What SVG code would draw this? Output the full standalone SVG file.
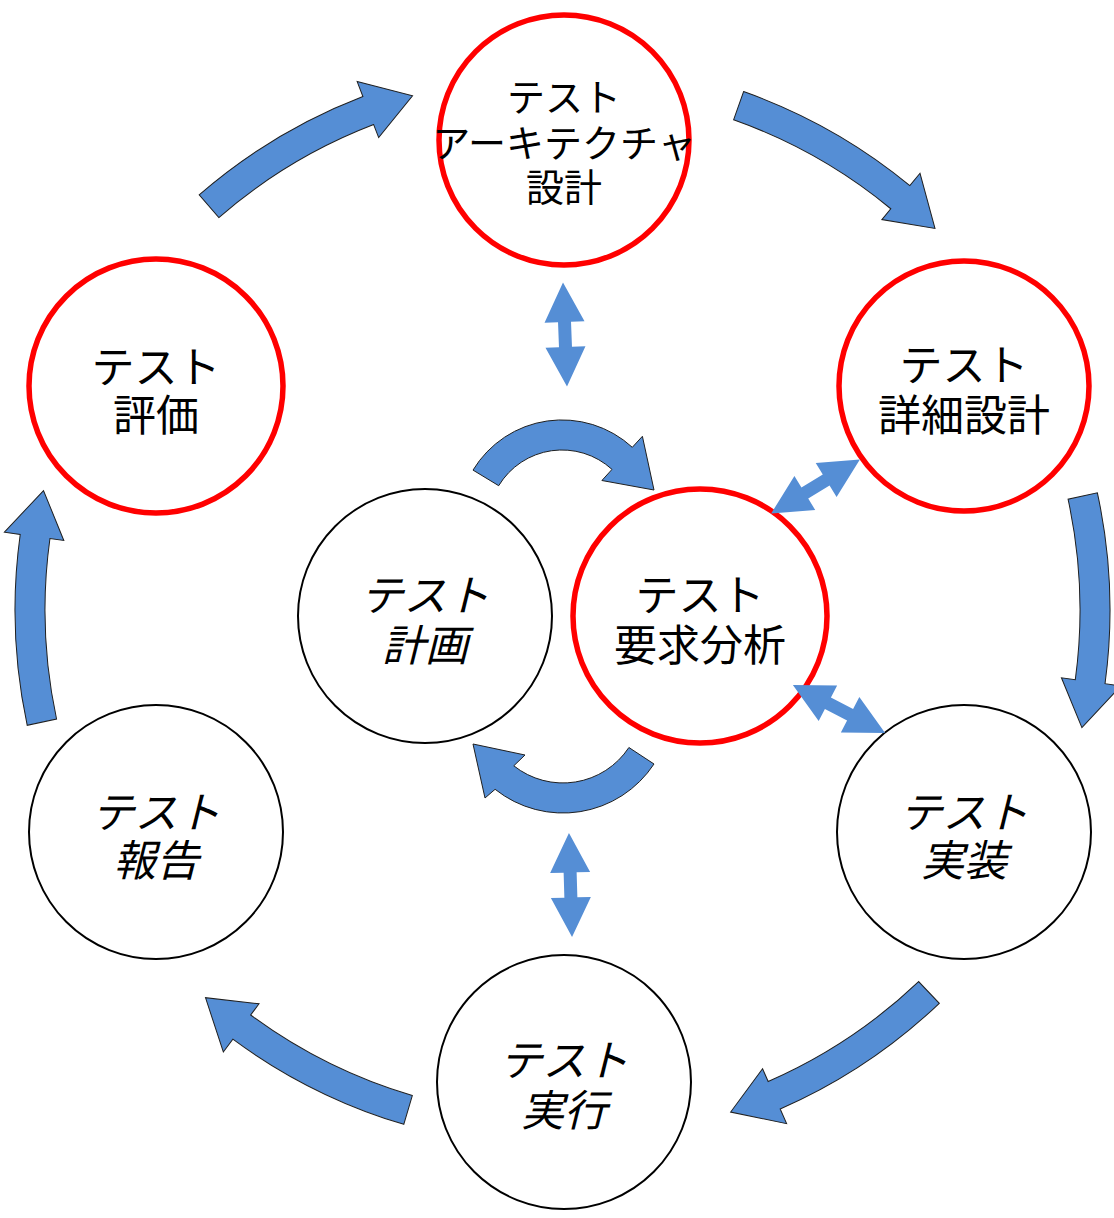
<svg xmlns="http://www.w3.org/2000/svg" xmlns:xlink="http://www.w3.org/1999/xlink" width="1114" height="1218" viewBox="0 0 1114 1218">
  <style>
    .red { fill: #ffffff; stroke: #ff0000; stroke-width: 5.5; }
    .blk { fill: #ffffff; stroke: #000000; stroke-width: 2; }
    .lbl { font-family: "Noto Sans CJK JP", "Noto Sans", sans-serif; font-size: 43px; fill: #000000; text-anchor: middle; }
    .sm { font-size: 38px; }
    .it { font-style: italic; }
    .flow { fill: #558ed5; stroke: #1f1f1f; stroke-width: 1; stroke-linejoin: miter; }
    .dbl { fill: #558ed5; stroke: none; }
  </style>
  <defs>
    <!-- curved ring arrow: band r 520..550 starting at angle 0, running clockwise 25 degrees -->
    <path id="ringArrow" d="M550,0 A550,550 0 0 1 516.83,188.11 L531.87,193.58 L484.87,226.10 L475.48,173.06 L488.64,177.85 A520,520 0 0 0 520,0 Z"/>
    <!-- straight double-headed arrow along the y axis -->
    <path id="dblArrow" d="M0,-52 L20,-12.5 L6.5,-12.5 L6.5,12.5 L20,12.5 L0,52 L-20,12.5 L-6.5,12.5 L-6.5,-12.5 L-20,-12.5 Z"/>
  </defs>

  <rect width="1114" height="1218" fill="#ffffff"/>

  <!-- nodes -->
  <g id="node-arch">
    <circle class="red" cx="564" cy="140" r="125"/>
    <text class="lbl sm" x="564" y="111">テスト</text>
    <text class="lbl sm" x="564" y="157">アーキテクチャ</text>
    <text class="lbl sm" x="564" y="201">設計</text>
  </g>
  <g id="node-detail">
    <circle class="red" cx="964" cy="386" r="125"/>
    <text class="lbl" x="964" y="381">テスト</text>
    <text class="lbl" x="964" y="431">詳細設計</text>
  </g>
  <g id="node-eval">
    <circle class="red" cx="156" cy="386" r="127"/>
    <text class="lbl" x="156" y="383">テスト</text>
    <text class="lbl" x="156" y="431">評価</text>
  </g>
  <g id="node-req">
    <circle class="red" cx="700" cy="616" r="127"/>
    <text class="lbl" x="700" y="611">テスト</text>
    <text class="lbl" x="700" y="661">要求分析</text>
  </g>
  <g id="node-plan">
    <circle class="blk" cx="425" cy="616" r="127"/>
    <text class="lbl it" x="425" y="611">テスト</text>
    <text class="lbl it" x="425" y="661">計画</text>
  </g>
  <g id="node-impl">
    <circle class="blk" cx="964" cy="832" r="127"/>
    <text class="lbl it" x="964" y="828">テスト</text>
    <text class="lbl it" x="964" y="876">実装</text>
  </g>
  <g id="node-report">
    <circle class="blk" cx="156" cy="832" r="127"/>
    <text class="lbl it" x="156" y="828">テスト</text>
    <text class="lbl it" x="156" y="876">報告</text>
  </g>
  <g id="node-exec">
    <circle class="blk" cx="564" cy="1082" r="127"/>
    <text class="lbl it" x="564" y="1076">テスト</text>
    <text class="lbl it" x="564" y="1126">実行</text>
  </g>

  <!-- connectors -->
  <g id="connectors">
    <!-- outer cycle -->
    <use xlink:href="#ringArrow" class="flow" transform="translate(560,610) rotate(229)"/>
    <use xlink:href="#ringArrow" class="flow" transform="translate(560,610) rotate(289.5)"/>
    <use xlink:href="#ringArrow" class="flow" transform="translate(560,610) rotate(347.7)"/>
    <use xlink:href="#ringArrow" class="flow" transform="translate(560,605) rotate(46.4)"/>
    <use xlink:href="#ringArrow" class="flow" transform="translate(560,597) rotate(106.5)"/>
    <use xlink:href="#ringArrow" class="flow" transform="translate(565,610) rotate(167.9)"/>

    <!-- inner loop between planning and requirements analysis -->
    <path class="flow" d="M473,470.1 A104,104 0 0 1 632.3,447.3 L642.4,436.3 L654,490 L601.9,480.5 L612,469.4 A74,74 0 0 0 498.7,485.7 Z"/>
    <path class="flow" d="M654,764 A109,109 0 0 1 495.1,789.3 L485,798 L473,744 L525,755 L513.8,765.8 A79,79 0 0 0 628.9,747.5 Z"/>

    <!-- two-way links -->
    <use xlink:href="#dblArrow" class="dbl" transform="translate(565,334.5) rotate(-2.2)"/>
    <use xlink:href="#dblArrow" class="dbl" transform="translate(570.5,885) rotate(-1.7)"/>
    <use xlink:href="#dblArrow" class="dbl" transform="translate(815.5,486.5) rotate(58.6)"/>
    <use xlink:href="#dblArrow" class="dbl" transform="translate(839,709) rotate(-62.5)"/>
  </g>
</svg>
